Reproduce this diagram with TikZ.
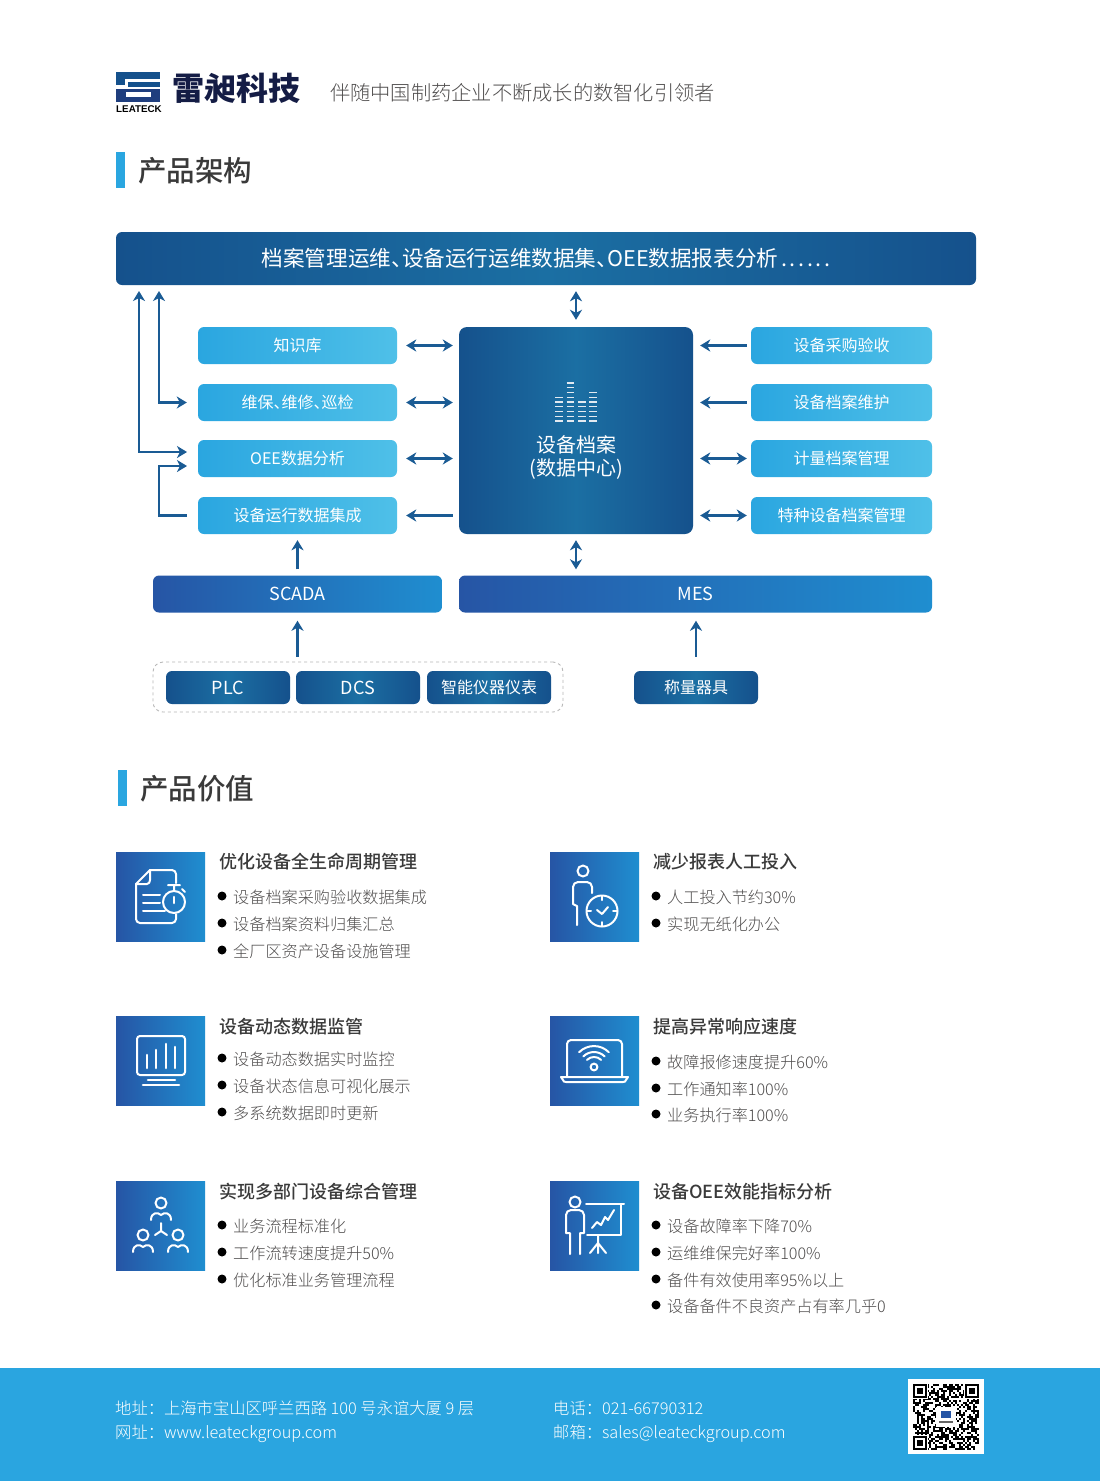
\documentclass[tikz,border=0pt]{standalone}
\usepackage{fontspec}
\setmainfont{Noto Sans CJK SC}[UprightFont=* Light,BoldFont=* Medium]
\newfontfamily\regularfont{Noto Sans CJK SC}
\newfontfamily\logofont{Noto Sans CJK SC Black}
\newfontfamily\latinfont{Liberation Sans}
\usetikzlibrary{arrows.meta}
\definecolor{navy}{HTML}{15518C}
\definecolor{teal}{HTML}{1B6FA3}
\definecolor{sky}{HTML}{2AA6E0}
\definecolor{skylight}{HTML}{4FC0E8}
\definecolor{royal}{HTML}{2655A5}
\definecolor{ocean}{HTML}{1F8ED0}
\definecolor{flowblue}{HTML}{1A5B94}
\definecolor{inktext}{HTML}{3A3A3A}
\definecolor{greytext}{HTML}{4F4D4D}
\definecolor{footer}{HTML}{2AA5E0}
\definecolor{logoink}{HTML}{141C45}
\newcommand\dun{、\kern-0.5em}
\newcommand\dotrun{.\kern2.6pt.\kern2.6pt.\kern2.6pt.\kern2.6pt.\kern2.6pt.}
\tikzset{
  >={Stealth[length=10pt,width=12pt,inset=3pt]},
  every node/.style={inner sep=0pt,execute at begin node={\vphantom{\regularfont 中}}},
  box/.style={rounded corners=6pt,text=white,font=\regularfont\fontsize{16}{16}\selectfont,minimum height=37pt},
  module/.style={box,left color=sky,right color=skylight,minimum width=#1},
  system/.style={box,left color=royal,right color=ocean,minimum width=#1,font=\regularfont\fontsize{18}{18}\selectfont},
  device/.style={box,left color=navy,right color=navy,middle color=teal,minimum width=124pt,minimum height=33pt},
  flow/.style={draw=flowblue,line width=2.4pt},
  heading/.style={anchor=west,text=inktext,font=\bfseries\fontsize{28.5}{28.5}\selectfont},
  itemhead/.style={anchor=west,text=inktext,font=\bfseries\fontsize{18}{18}\selectfont},
  itemtext/.style={anchor=west,text=greytext,font=\fontsize{16.15}{16.15}\selectfont},
  footertext/.style={anchor=west,text=white,font=\fontsize{16.3}{16.3}\selectfont},
  iconbox/.style={left color=royal,right color=ocean,minimum width=89pt,minimum height=89pt,anchor=north west},
  icon/.style={draw=white,line width=2pt,line cap=round,line join=round},
}
\begin{document}
\begin{tikzpicture}[x=1pt,y=-1pt]
  \useasboundingbox (0,0) rectangle (1100,1481);
  \fill[white] (0,0) rectangle (1100,1481);

  % logo
  \fill[navy] (116,72) rectangle (160,79);
  \fill[navy] (116,79) rectangle (125,85);
  \fill[navy] (128,82) rectangle (160,87);
  \fill[royal!60!logoink] (116,89) rectangle (151,92);
  \fill[royal!60!logoink] (116,92) rectangle (126,102);
  \fill[royal!60!logoink] (126,97) rectangle (151,102);
  \fill[royal!60!logoink] (151,89) rectangle (160,102);
  \node[text=black,font=\latinfont\bfseries\fontsize{9.8}{9.8}\selectfont] (brand) at (139,109) {LEATECK};
  \node[anchor=west,text=logoink,font=\logofont\fontsize{32}{32}\selectfont] (company) at (172,88.5) {雷昶科技};
  \node[anchor=west,text=greytext,font=\fontsize{20.25}{20.25}\selectfont] (slogan) at (330,93) {伴随中国制药企业不断成长的数智化引领者};

  \fill[sky] (116,152) rectangle (125,188);
  \node[heading] (titlearch) at (138,170.5) {产品架构};
  \fill[sky] (118,770) rectangle (127,806);
  \node[heading] (titlevalue) at (140,788.5) {产品价值};

  % architecture
  \node[box,left color=navy,right color=navy,middle color=teal,minimum width=860pt,minimum height=53pt,
        font=\regularfont\fontsize{21.6}{21.6}\selectfont] (banner) at (546,258.5)
        {档案管理运维\dun 设备运行运维数据集\dun OEE数据报表分析\kern3pt\dotrun};
  \node[box,rounded corners=8pt,left color=navy,right color=navy,middle color=teal,minimum width=234pt,minimum height=207pt] (center) at (576,430.5) {};
  \foreach \n in {0,...,5} \draw[white!88!navy,line width=1.4pt] (555,421-4.75*\n) -- (563,421-4.75*\n);
  \foreach \n in {0,...,8} \draw[white!88!navy,line width=1.4pt] (566.5,421-4.75*\n) -- (574,421-4.75*\n);
  \foreach \n in {0,...,4} \draw[white!88!navy,line width=1.4pt] (578,421-4.75*\n) -- (585.5,421-4.75*\n);
  \foreach \n in {0,...,6} \draw[white!88!navy,line width=1.4pt] (589,421-4.75*\n) -- (597,421-4.75*\n);
  \node[text=white,font=\regularfont\fontsize{20}{20}\selectfont] (archive) at (576,445) {设备档案};
  \node[text=white,font=\regularfont\fontsize{20}{20}\selectfont] (datacenter) at (576,469) {(数据中心)};

  \node[module=199pt] (know) at (297.5,345.5) {知识库};
  \node[module=199pt] (maint) at (297.5,402.5) {维保\dun 维修\dun 巡检};
  \node[module=199pt] (oee) at (297.5,458.5) {OEE数据分析};
  \node[module=199pt] (run) at (297.5,515.5) {设备运行数据集成};
  \node[module=181pt] (buy) at (841.5,345.5) {设备采购验收};
  \node[module=181pt] (file) at (841.5,402.5) {设备档案维护};
  \node[module=181pt] (meter) at (841.5,458.5) {计量档案管理};
  \node[module=181pt] (special) at (841.5,515.5) {特种设备档案管理};
  \node[system=289pt] (scada) at (297.5,594) {SCADA};
  \node[system=473pt] (mes) at (695.5,594) {MES};
  \node[draw=black!28,line width=0.9pt,dash pattern=on 3pt off 3pt,rounded corners=10pt,minimum width=410pt,minimum height=50pt] (field) at (358,687) {};
  \node[device,font=\regularfont\fontsize{18}{18}\selectfont] (plc) at (228,687.5) {PLC};
  \node[device,font=\regularfont\fontsize{18}{18}\selectfont] (dcs) at (358,687.5) {DCS};
  \node[device] (meters) at (489,687.5) {智能仪器仪表};
  \node[device] (scale) at (696,687.5) {称量器具};

  \coordinate (upa) at (139,285);
  \coordinate (upb) at (159,285);
  \coordinate (oeea) at (198,452);
  \coordinate (oeeb) at (198,466);
  \draw[flow,<->,shorten <=6pt,shorten >=7pt] (banner.south -| center.north) -- (center.north);
  \draw[flow,<->,shorten <=6pt,shorten >=6pt] (center.south) -- (center.south |- mes.north);
  \foreach \m in {know,maint,oee}
    \draw[flow,<->,shorten <=9pt,shorten >=6pt] (\m.east) -- (\m.east -| center.west);
  \draw[flow,<-,shorten <=9pt,shorten >=6pt] (run.east) -- (run.east -| center.west);
  \foreach \m in {buy,file}
    \draw[flow,<-,shorten <=7pt,shorten >=4pt] (\m.west -| center.east) -- (\m.west);
  \foreach \m in {meter,special}
    \draw[flow,<->,shorten <=7pt,shorten >=4pt] (\m.west -| center.east) -- (\m.west);
  \draw[flow,<->,shorten <=6pt,shorten >=11pt] (upa) |- (oeea);
  \draw[flow,<->,shorten <=6pt,shorten >=11pt] (upb) |- (maint.west);
  \draw[flow,->,shorten <=11pt,shorten >=11pt] (run.west) -- ++(-39,0) |- (oeeb);
  \draw[flow,->,shorten <=6pt,shorten >=6pt] (scada.north) -- (run.south);
  \draw[flow,->,shorten <=5pt,shorten >=8pt] (scada.south |- field.north) -- (scada.south);
  \draw[flow,->,shorten <=14pt,shorten >=8pt] (scale.north) -- (mes.south -| scale.north);

  % value icons
  \foreach \x/\y/\n in {116/852/a,550/852/b,116/1016/c,550/1016/d,116/1181/e,550/1181/f}
    \node[iconbox] (icon\n) at (\x,\y) {};

  % document and stopwatch
  \draw[icon] (176,883) -- (176,874) to[out=90,in=0] (172,870) -- (150,870) -- (136,884) -- (136,919) to[out=270,in=180] (140,923) -- (172,923) to[out=0,in=270] (176,919) -- (176,914);
  \draw[icon] (150,870) -- (150,880) to[out=270,in=0] (147,884) -- (136,884);
  \draw[icon] (143,895) -- (160,895) (143,903) -- (160,903) (143,911) -- (165,911);
  \draw[icon] (174,902) circle[radius=11pt];
  \draw[icon] (168,885) -- (180,885) (174,885) -- (174,890) (182,889) -- (185,892);
  \draw[icon,line width=2.6pt] (174,897) -- (174,903);

  % person and clock
  \draw[icon] (583,871) circle[radius=5.5pt];
  \draw[icon] (592,893) -- (592,887) to[out=90,in=0] (587,882) -- (578,882) to[out=180,in=90] (573,887) -- (573,904) -- (577,906) -- (577,925);
  \draw[icon] (602,911) circle[radius=15.5pt];
  \draw[icon] (602,896) -- (602,900) (602,922) -- (602,926) (587,911) -- (591,911) (613,911) -- (617,911);
  \draw[icon] (597,910) -- (602,914) -- (608,907);

  % monitor
  \draw[icon,rounded corners=3pt] (137,1036) rectangle (185,1075);
  \foreach \bx/\by in {147/1055,156/1050,166/1044,175/1047}
    \draw[icon,line width=2.6pt] (\bx,\by) -- (\bx,1068);
  \draw[icon,line width=2.6pt] (148,1080) -- (175,1080) (143,1085) -- (179,1085);

  % laptop and wifi
  \draw[icon] (567,1076) -- (567,1044) to[out=90,in=180] (571,1040) -- (618,1040) to[out=0,in=90] (622,1044) -- (622,1076);
  \draw[icon] (561,1077) -- (628,1077) -- (626,1080) to[out=270,in=0] (623,1082) -- (566,1082) to[out=180,in=270] (563,1080) -- cycle;
  \draw[icon] (594,1067) circle[radius=3.4pt];
  \draw[icon] (601.1,1059.9) arc[start angle=45,end angle=135,radius=10pt];
  \draw[icon] (604.6,1056.4) arc[start angle=45,end angle=135,radius=15pt];
  \draw[icon] (608.8,1052.2) arc[start angle=45,end angle=135,radius=21pt];

  % three people
  \foreach \px/\py in {161/1203,143/1235,178/1235} {
    \draw[icon] (\px,\py) circle[radius=5.5pt];
    \draw[icon] (\px-10,\py+17) .. controls (\px-10,\py+9) and (\px-3,\py+9) .. (\px,\py+12) .. controls (\px+3,\py+9) and (\px+10,\py+9) .. (\px+10,\py+17);
  }
  \draw[icon] (161,1223) -- (161,1231) (155,1235) -- (161,1231) -- (167,1235);

  % presenter
  \draw[icon] (575,1202) circle[radius=5.5pt];
  \draw[icon] (570,1254) -- (570,1233) -- (566,1233) -- (566,1215) to[out=90,in=180] (571,1210) -- (579,1210) to[out=0,in=90] (584,1215) -- (584,1233) -- (580,1233) -- (580,1254);
  \draw[icon] (586,1204) -- (624,1204) (621,1204) -- (621,1235) -- (587,1235);
  \draw[icon] (598,1235) -- (598,1253) (590,1253) -- (598,1243) -- (606,1253);
  \draw[icon] (592,1228) -- (597,1222) -- (601,1225) -- (605,1217) -- (608,1220) -- (614,1210);

  % value texts
  \node[itemhead] (heada) at (219,862) {优化设备全生命周期管理};
  \node[itemhead] (headb) at (653,862) {减少报表人工投入};
  \node[itemhead] (headc) at (219,1027) {设备动态数据监管};
  \node[itemhead] (headd) at (653,1027) {提高异常响应速度};
  \node[itemhead] (heade) at (219,1192) {实现多部门设备综合管理};
  \node[itemhead] (headf) at (653,1192) {设备OEE效能指标分析};
  \foreach \x/\y/\txt in {
    233/897/设备档案采购验收数据集成,233/924/设备档案资料归集汇总,233/951/全厂区资产设备设施管理,
    667/897/人工投入节约30\%,667/924/实现无纸化办公,
    233/1059/设备动态数据实时监控,233/1086/设备状态信息可视化展示,233/1113/多系统数据即时更新,
    667/1062/故障报修速度提升60\%,667/1089/工作通知率100\%,667/1115/业务执行率100\%,
    233/1226/业务流程标准化,233/1253/工作流转速度提升50\%,233/1280/优化标准业务管理流程,
    667/1226/设备故障率下降70\%,667/1253/运维维保完好率100\%,667/1280/备件有效使用率95\%以上,667/1306/设备备件不良资产占有率几乎0} {
    \fill[black] (\x-11,\y-1) circle[radius=4.5pt];
    \node[itemtext] (item\x\y) at (\x,\y) {\txt};
  }

  % footer
  \fill[footer] (0,1368) rectangle (1100,1481);
  \node[footertext] (address) at (115,1408.5) {地址：上海市宝山区呼兰西路 100 号永谊大厦 9 层};
  \node[footertext] (website) at (115,1433.5) {网址：www.leateckgroup.com};
  \node[footertext] (phone) at (553,1408.5) {电话：021-66790312};
  \node[footertext] (mail) at (553,1433.5) {邮箱：sales@leateckgroup.com};

  % qr code
  \fill[white] (908,1379) rectangle (984,1454);
  \pgfmathsetseed{2718}
  \foreach \i in {0,...,32} \foreach \j in {0,...,32} {
    \pgfmathrandominteger{\qrbit}{0}{1}
    \ifnum\qrbit=1 \fill[black] (913+2*\i,1384+2*\j) rectangle ++(2,2); \fi
  }
  \foreach \qx/\qy in {913/1384,965/1384,913/1436} {
    \fill[white] (\qx-1,\qy-1) rectangle ++(16,16);
    \fill[black] (\qx,\qy) rectangle ++(14,14);
    \fill[white] (\qx+2,\qy+2) rectangle ++(10,10);
    \fill[black] (\qx+4,\qy+4) rectangle ++(6,6);
  }
  \fill[white] (936,1407) rectangle (956,1427);
  \fill[royal] (941,1411) rectangle (951,1418);
  \fill[black!60] (939,1421) rectangle (953,1423);
\end{tikzpicture}
\end{document}
